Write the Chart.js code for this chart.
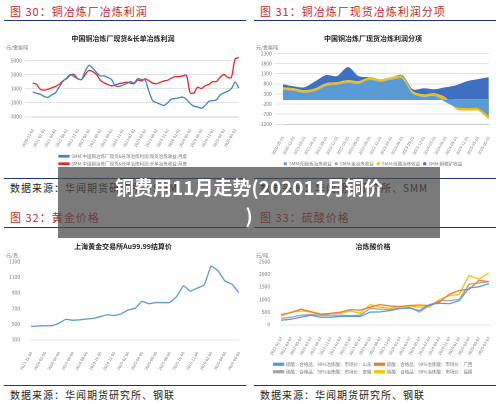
<!DOCTYPE html>
<html><head><meta charset="utf-8">
<script src="https://cdn.jsdelivr.net/npm/chart.js@4.4.0/dist/chart.umd.min.js"></script>
<style>
body{margin:0;width:500px;height:404px;background:#fff;position:relative;overflow:hidden;font-family:"Noto Sans CJK SC",sans-serif}
.t{position:absolute;color:#c0282d;font-size:11px;font-family:"Noto Sans CJK SC";letter-spacing:1px}
.ln{position:absolute;height:1px;background:#1f3a6a}
.src{position:absolute;font-size:10px;color:#222;letter-spacing:1px}
.c{position:absolute}
.ov{position:absolute;left:58px;top:167px;width:382px;height:71px;background:rgba(70,70,70,0.72);color:#fff;font-weight:bold;font-size:19px;text-align:center;line-height:28px;padding-top:6px;box-sizing:border-box}
</style></head><body>
<div class="t" style="left:10px;top:3px">图 30：铜冶炼厂冶炼利润</div>
<div class="ln" style="left:4px;top:20px;width:242px"></div>
<div class="t" style="left:260px;top:3px">图 31：铜冶炼厂现货冶炼利润分项</div>
<div class="ln" style="left:254px;top:20px;width:242px"></div>
<div class="ln" style="left:4px;top:178px;width:242px"></div>
<div class="src" style="left:10px;top:180px">数据来源：华闻期货研究所、SMM</div>
<div class="ln" style="left:254px;top:178px;width:242px"></div>
<div class="src" style="left:260px;top:180px">数据来源：华闻期货研究所、SMM</div>
<div class="t" style="left:10px;top:209px">图 32：黄金价格</div>
<div class="ln" style="left:4px;top:227px;width:242px"></div>
<div class="t" style="left:260px;top:209px">图 33：硫酸价格</div>
<div class="ln" style="left:254px;top:227px;width:242px"></div>
<div class="ln" style="left:4px;top:385px;width:242px"></div>
<div class="src" style="left:10px;top:387px">数据来源：华闻期货研究所、钢联</div>
<div class="ln" style="left:254px;top:385px;width:242px"></div>
<div class="src" style="left:260px;top:387px">数据来源：华闻期货研究所、钢联</div>
<canvas id="c1" class="c" style="left:4px;top:26px"></canvas>
<canvas id="c2" class="c" style="left:254px;top:26px"></canvas>
<canvas id="c3" class="c" style="left:4px;top:234px"></canvas>
<canvas id="c4" class="c" style="left:254px;top:234px"></canvas>
<div class="ov">铜费用11月走势(202011月铜价<br>)</div>
<script>
// 图30
const months1 = [];
for (let y = 2020, m = 11; months1.length < 56; m++) { if (m > 12) { m = 1; y++; } months1.push(y + '-' + String(m).padStart(2, '0') + '-01'); }
const profitTotal = [500,350,200,-100,-250,100,400,1200,2000,2500,3000,2700,2400,2300,3500,4300,3900,3300,2800,2800,2600,2300,1400,1300,1500,1700,2000,1800,2400,2300,2200,600,-700,-1000,-1200,-1400,-1000,-500,-400,-300,-200,-500,-1100,-1500,-1600,-1800,-1400,-800,-700,-600,100,400,600,1000,1900,1100];
const profitLong = [1800,1600,900,800,900,1100,1300,1600,2100,2400,2900,3000,2400,2300,3000,3600,3400,3000,2200,1800,1600,1400,1500,1700,1800,1900,1800,1700,2200,2100,2400,2100,1800,1700,1900,2100,2200,2500,2700,2700,2800,2900,400,400,1200,1000,1400,1600,2000,2000,2600,3000,2600,2600,5200,5400];
// 图31
const months2 = ['2020-09-01','2020-12-01','2021-03-01','2021-06-01','2021-09-01','2021-12-01','2022-03-01','2022-06-01','2022-09-01','2022-12-01','2023-03-01','2023-06-01','2023-09-01','2023-12-01','2024-03-01','2024-06-01','2024-09-01','2024-12-01','2025-03-01','2025-06-01'];
const anodeProfit = [500,450,350,450,700,750,850,800,1000,900,1000,1050,300,150,200,-100,-350,-400,-400,-800];
const goldProfit = [30,30,30,30,30,30,30,30,30,30,30,30,30,30,30,30,30,30,30,30];
const acidProfit = [100,100,100,100,100,100,100,100,100,100,100,100,100,100,100,100,-100,-120,-120,-150];
const concProfit = [150,100,150,350,400,300,650,250,0,0,0,50,100,300,200,500,700,900,1000,1100];
// 图32
const goldDates = ['2023-12-06','2024-01-06','2024-02-06','2024-03-06','2024-04-06','2024-05-06','2024-06-06','2024-07-06','2024-08-06','2024-09-06','2024-10-06','2024-11-06','2024-12-06','2025-01-06','2025-02-06','2025-03-06','2025-04-06','2025-05-06','2025-06-06','2025-07-06','2025-08-06','2025-09-06','2025-10-06','2025-11-06','2025-12-06','2026-01-06','2026-02-06','2026-03-06','2026-04-06','2026-05-06','2026-06-06'];
const goldPrice = [470,476,479,480,510,560,550,555,565,575,595,620,610,630,680,700,790,760,775,775,775,850,990,920,960,1000,1240,1180,1050,1010,900];
// 图33
const acidDates = ['2022-01-07','2022-03-07','2022-05-07','2022-07-07','2022-09-07','2022-11-07','2023-01-07','2023-03-07','2023-05-07','2023-07-07','2023-09-07','2023-11-07','2024-01-07','2024-03-07','2024-05-07','2024-07-07','2024-09-07','2024-11-07','2025-01-07','2025-03-07','2025-05-07','2025-07-07'];
const acidShandong = [180,220,300,380,300,300,330,340,330,500,510,560,640,660,560,800,850,830,950,1450,1500,1620];
const acidGuangxi = [400,480,620,520,420,450,500,600,580,700,800,740,720,760,780,760,900,1200,1350,1400,1750,1700];
const acidAnhui = [250,300,380,400,380,380,380,360,380,650,620,600,650,680,500,780,950,950,1000,1600,1650,1700];
const acidFujian = [350,500,550,500,400,450,450,550,450,800,700,650,720,740,700,700,1000,1150,1200,1950,1800,2050];

Chart.defaults.font.family = '"Noto Sans CJK SC", sans-serif';
Chart.defaults.font.size = 5;
Chart.defaults.color = '#777';
Chart.defaults.animation = false;

function opts(title, unit, yMin, yMax, step) {
    return {
        responsive: false, devicePixelRatio: 2,
        layout: { padding: { left: 2, right: 6, top: 4, bottom: 0 } },
        plugins: {
            title: { display: true, text: title, color: '#222', font: { size: 7, weight: 'bold' }, padding: { top: 4, bottom: 2 } },
            subtitle: { display: true, text: unit, align: 'start', font: { size: 5 }, padding: { bottom: 3 } },
            legend: { position: 'bottom', labels: { boxWidth: 10, boxHeight: 2, font: { size: 4.5 }, padding: 3 } }
        },
        elements: { point: { radius: 0 }, line: { borderWidth: 1.3, tension: 0.3 } },
        scales: {
            x: { grid: { display: false }, ticks: { maxRotation: 60, minRotation: 60, autoSkip: false, font: { size: 4 } } },
            y: { min: yMin, max: yMax, ticks: { stepSize: step, font: { size: 5 }, callback: v => String(v) }, grid: { color: '#e4e4e4' }, border: { display: false } }
        }
    };
}

function sz(id, w, h) { const c = document.getElementById(id); c.width = w; c.height = h; c.style.width = w + 'px'; c.style.height = h + 'px'; return c; }

const o1 = opts('中国铜冶炼厂现货&长单冶炼利润', '元/金属吨', -3000, 6000, 1000);
o1.scales.x.ticks.callback = function (v, i) { return i % 3 === 0 ? this.getLabelForValue(v) : ''; };
o1.plugins.legend.labels.boxHeight = 1.5;
new Chart(sz('c1', 242, 150), {
    type: 'line',
    data: { labels: months1, datasets: [
        { label: 'SMM:中国铜冶炼厂现货&长单冶炼利润:现货冶炼收益:月度', data: profitTotal, borderColor: '#3c85c6', backgroundColor: '#3c85c6' },
        { label: 'SMM:中国铜冶炼厂现货&长单冶炼利润:长单冶炼收益:月度', data: profitLong, borderColor: '#e8262a', backgroundColor: '#e8262a' }
    ] },
    options: o1
});

const o2 = opts('中国铜冶炼厂现货冶炼利润分项', '元/金属吨', -1200, 2300, 500);
o2.scales.y.stacked = true; o2.scales.x.stacked = true;
o2.elements.line.borderWidth = 0;
o2.plugins.legend.labels.boxWidth = 3; o2.plugins.legend.labels.boxHeight = 3;
new Chart(sz('c2', 242, 150), {
    type: 'line',
    data: { labels: months2, datasets: [
        { label: 'SMM:阳极板冶炼收益', data: anodeProfit, fill: 'origin', backgroundColor: '#5b9bd5', borderColor: '#5b9bd5' },
        { label: 'SMM:金冶炼收益', data: goldProfit, fill: '-1', backgroundColor: '#a5a5a5', borderColor: '#a5a5a5' },
        { label: 'SMM:硫酸冶炼收益', data: acidProfit, fill: '-1', backgroundColor: '#f5c000', borderColor: '#f5c000' },
        { label: 'SMM:铜精矿收益', data: concProfit, fill: '-1', backgroundColor: '#3e6fc0', borderColor: '#3e6fc0' }
    ] },
    options: o2
});

const o3 = opts('上海黄金交易所Au99.99结算价', '元/克', 300, 1300, 100);
o3.plugins.legend.display = false;
o3.scales.y.grid.display = false;
o3.scales.x.ticks.callback = function (v, i) { return i % 2 === 0 ? this.getLabelForValue(v) : ''; };
o3.elements.line.tension = 0.1;
new Chart(sz('c3', 242, 140), {
    type: 'line',
    data: { labels: goldDates, datasets: [{ label: 'Au99.99', data: goldPrice, borderColor: '#5b9bd5' }] },
    options: o3
});

const o4 = opts('冶炼酸价格', '元/吨', 0, 2500, 500);
o4.scales.y.grid.display = false;
o4.elements.line.tension = 0;
new Chart(sz('c4', 242, 150), {
    type: 'line',
    data: { labels: acidDates, datasets: [
        { label: '硫酸：合格品：98%冶炼酸：市场价：山东', data: acidShandong, borderColor: '#5b9bd5', backgroundColor: '#5b9bd5' },
        { label: '硫酸：合格品：98%冶炼酸：市场价：广西', data: acidGuangxi, borderColor: '#ed7d31', backgroundColor: '#ed7d31' },
        { label: '硫酸：合格品：98%冶炼酸：市场价：安徽', data: acidAnhui, borderColor: '#a5a5a5', backgroundColor: '#a5a5a5' },
        { label: '硫酸：合格品：98%冶炼酸：市场价：福建', data: acidFujian, borderColor: '#ffc000', backgroundColor: '#ffc000' }
    ] },
    options: o4
});
</script>
</body></html>
